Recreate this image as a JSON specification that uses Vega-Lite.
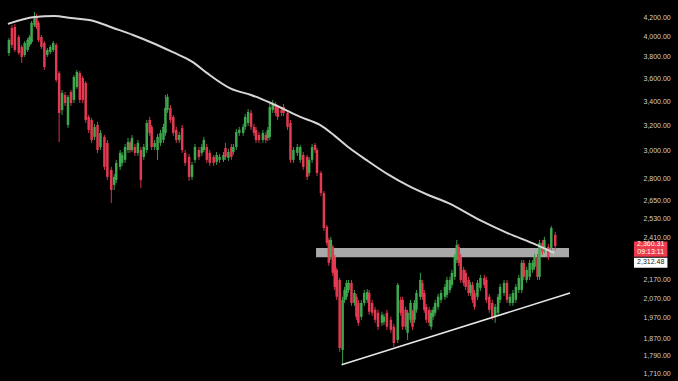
{
"$schema": "https://vega.github.io/schema/vega-lite/v6.json",
"width": 637, "height": 381,
"autosize": {"type": "none"},
"padding": {"left": 0, "top": 0, "right": 41, "bottom": 0},
"background": "#000000",
"config": {"view": {"stroke": null}},
"datasets": {
"candles": [
{"d":4,"o":3838,"h":3986,"l":3810,"c":3966},
{"d":7,"o":4088,"h":4119,"l":3887,"c":3916},
{"d":10,"o":4098,"h":4130,"l":3848,"c":3867},
{"d":14,"o":3996,"h":4016,"l":3819,"c":3838},
{"d":17,"o":3897,"h":3916,"l":3743,"c":3800},
{"d":20,"o":3819,"h":3956,"l":3800,"c":3936},
{"d":23,"o":3867,"h":3986,"l":3848,"c":3966},
{"d":25,"o":3916,"h":4016,"l":3897,"c":3996},
{"d":27,"o":3946,"h":4161,"l":3926,"c":4140},
{"d":30,"o":4119,"h":4256,"l":4098,"c":4192},
{"d":32,"o":4203,"h":4235,"l":4077,"c":4098},
{"d":34,"o":4140,"h":4161,"l":3946,"c":3966},
{"d":37,"o":3996,"h":4016,"l":3877,"c":3897},
{"d":40,"o":3936,"h":3956,"l":3677,"c":3705},
{"d":43,"o":3819,"h":3887,"l":3800,"c":3867},
{"d":46,"o":3848,"h":3916,"l":3829,"c":3897},
{"d":49,"o":3867,"h":3956,"l":3848,"c":3936},
{"d":52,"o":3916,"h":3936,"l":3568,"c":3586},
{"d":55,"o":3649,"h":3668,"l":3067,"c":3300},
{"d":58,"o":3325,"h":3497,"l":3283,"c":3470},
{"d":61,"o":3453,"h":3479,"l":3359,"c":3384},
{"d":64,"o":3202,"h":3453,"l":3178,"c":3436},
{"d":67,"o":3479,"h":3497,"l":3359,"c":3384},
{"d":70,"o":3410,"h":3631,"l":3384,"c":3613},
{"d":73,"o":3523,"h":3677,"l":3506,"c":3659},
{"d":76,"o":3649,"h":3668,"l":3384,"c":3410},
{"d":79,"o":3604,"h":3622,"l":3384,"c":3410},
{"d":82,"o":3559,"h":3577,"l":3218,"c":3242},
{"d":85,"o":3267,"h":3283,"l":3138,"c":3162},
{"d":88,"o":3242,"h":3258,"l":3060,"c":3083},
{"d":91,"o":3107,"h":3210,"l":3083,"c":3186},
{"d":94,"o":3202,"h":3226,"l":2984,"c":3006},
{"d":97,"o":3029,"h":3162,"l":3006,"c":3138},
{"d":101,"o":3107,"h":3122,"l":2859,"c":2881},
{"d":104,"o":3060,"h":3083,"l":2788,"c":2809},
{"d":108,"o":2859,"h":2881,"l":2631,"c":2718},
{"d":111,"o":2753,"h":2830,"l":2718,"c":2809},
{"d":113,"o":2788,"h":2932,"l":2767,"c":2910},
{"d":117,"o":2881,"h":3006,"l":2859,"c":2984},
{"d":119,"o":2910,"h":2991,"l":2888,"c":2969},
{"d":122,"o":2932,"h":3052,"l":2910,"c":3029},
{"d":125,"o":3006,"h":3099,"l":2984,"c":3067},
{"d":127,"o":3060,"h":3075,"l":2984,"c":3006},
{"d":129,"o":3006,"h":3122,"l":2991,"c":3099},
{"d":132,"o":3029,"h":3052,"l":2962,"c":2984},
{"d":135,"o":2984,"h":3083,"l":2962,"c":3060},
{"d":138,"o":3006,"h":3029,"l":2732,"c":2788},
{"d":141,"o":2954,"h":3052,"l":2932,"c":3029},
{"d":144,"o":3006,"h":3242,"l":2984,"c":3218},
{"d":147,"o":3242,"h":3267,"l":3115,"c":3138},
{"d":149,"o":3186,"h":3202,"l":3006,"c":3029},
{"d":152,"o":3029,"h":3083,"l":3006,"c":3060},
{"d":155,"o":3006,"h":3130,"l":2932,"c":3107},
{"d":158,"o":3060,"h":3162,"l":3037,"c":3138},
{"d":161,"o":3083,"h":3210,"l":3060,"c":3186},
{"d":163,"o":3138,"h":3453,"l":3115,"c":3342},
{"d":165,"o":3325,"h":3462,"l":3300,"c":3436},
{"d":168,"o":3342,"h":3367,"l":3218,"c":3242},
{"d":171,"o":3267,"h":3283,"l":3115,"c":3138},
{"d":174,"o":3162,"h":3186,"l":3060,"c":3083},
{"d":177,"o":3083,"h":3146,"l":3060,"c":3122},
{"d":180,"o":3178,"h":3202,"l":2984,"c":3006},
{"d":183,"o":2984,"h":3006,"l":2888,"c":2910},
{"d":187,"o":2954,"h":2976,"l":2781,"c":2809},
{"d":190,"o":2809,"h":2917,"l":2788,"c":2895},
{"d":193,"o":2932,"h":3052,"l":2910,"c":3029},
{"d":197,"o":3006,"h":3029,"l":2932,"c":2954},
{"d":200,"o":2984,"h":3052,"l":2962,"c":3029},
{"d":202,"o":3006,"h":3107,"l":2991,"c":3083},
{"d":205,"o":3029,"h":3052,"l":2910,"c":2932},
{"d":208,"o":2984,"h":3006,"l":2888,"c":2910},
{"d":212,"o":2954,"h":2969,"l":2888,"c":2910},
{"d":215,"o":2917,"h":2991,"l":2895,"c":2969},
{"d":218,"o":2932,"h":2976,"l":2910,"c":2954},
{"d":222,"o":2932,"h":2991,"l":2917,"c":2969},
{"d":224,"o":3021,"h":3060,"l":2932,"c":2954},
{"d":227,"o":2947,"h":3014,"l":2925,"c":2991},
{"d":230,"o":3029,"h":3052,"l":2932,"c":2954},
{"d":232,"o":2991,"h":3052,"l":2969,"c":3029},
{"d":235,"o":3029,"h":3170,"l":3006,"c":3146},
{"d":238,"o":3138,"h":3186,"l":3115,"c":3162},
{"d":242,"o":3138,"h":3210,"l":3115,"c":3186},
{"d":244,"o":3186,"h":3291,"l":3162,"c":3267},
{"d":247,"o":3218,"h":3333,"l":3194,"c":3308},
{"d":250,"o":3300,"h":3325,"l":3162,"c":3186},
{"d":253,"o":3186,"h":3210,"l":3115,"c":3138},
{"d":255,"o":3162,"h":3186,"l":3060,"c":3083},
{"d":258,"o":3122,"h":3146,"l":3060,"c":3083},
{"d":262,"o":3083,"h":3162,"l":3060,"c":3138},
{"d":265,"o":3122,"h":3146,"l":3060,"c":3083},
{"d":267,"o":3099,"h":3186,"l":3075,"c":3162},
{"d":269,"o":3107,"h":3376,"l":3083,"c":3350},
{"d":272,"o":3325,"h":3410,"l":3300,"c":3367},
{"d":275,"o":3367,"h":3393,"l":3275,"c":3300},
{"d":277,"o":3342,"h":3367,"l":3242,"c":3267},
{"d":281,"o":3325,"h":3350,"l":3275,"c":3300},
{"d":283,"o":3350,"h":3376,"l":3275,"c":3300},
{"d":287,"o":3300,"h":3325,"l":3162,"c":3186},
{"d":290,"o":3218,"h":3242,"l":2910,"c":2932},
{"d":293,"o":2932,"h":3029,"l":2910,"c":3006},
{"d":297,"o":2984,"h":3052,"l":2962,"c":3029},
{"d":300,"o":2932,"h":3044,"l":2910,"c":3029},
{"d":303,"o":2969,"h":2991,"l":2859,"c":2881},
{"d":307,"o":2954,"h":2969,"l":2788,"c":2809},
{"d":309,"o":2837,"h":2954,"l":2816,"c":2932},
{"d":312,"o":2932,"h":3052,"l":2910,"c":3029},
{"d":315,"o":3044,"h":3060,"l":2984,"c":3006},
{"d":317,"o":3006,"h":3021,"l":2816,"c":2837},
{"d":321,"o":2837,"h":2852,"l":2677,"c":2697},
{"d":324,"o":2697,"h":2711,"l":2452,"c":2470},
{"d":327,"o":2477,"h":2489,"l":2361,"c":2379},
{"d":329,"o":2397,"h":2409,"l":2245,"c":2262},
{"d":331,"o":2296,"h":2415,"l":2279,"c":2397},
{"d":333,"o":2355,"h":2367,"l":2189,"c":2206},
{"d":335,"o":2296,"h":2308,"l":2113,"c":2129},
{"d":337,"o":2223,"h":2234,"l":2061,"c":2077},
{"d":340,"o":2167,"h":2178,"l":1808,"c":1826},
{"d":343,"o":1817,"h":2077,"l":1750,"c":2061},
{"d":345,"o":2061,"h":2129,"l":2045,"c":2113},
{"d":347,"o":2077,"h":2167,"l":2061,"c":2151},
{"d":349,"o":2113,"h":2167,"l":2097,"c":2151},
{"d":352,"o":2151,"h":2167,"l":2030,"c":2045},
{"d":355,"o":2045,"h":2113,"l":2030,"c":2097},
{"d":357,"o":2077,"h":2092,"l":1960,"c":1975},
{"d":359,"o":2045,"h":2061,"l":1930,"c":1945},
{"d":362,"o":1975,"h":2061,"l":1960,"c":2045},
{"d":365,"o":2045,"h":2113,"l":2030,"c":2097},
{"d":368,"o":2061,"h":2118,"l":2045,"c":2102},
{"d":370,"o":2097,"h":2113,"l":1985,"c":2000},
{"d":373,"o":2045,"h":2061,"l":1980,"c":1995},
{"d":376,"o":2010,"h":2025,"l":1945,"c":1960},
{"d":379,"o":1995,"h":2010,"l":1911,"c":1926},
{"d":383,"o":1945,"h":2000,"l":1930,"c":1985},
{"d":385,"o":1950,"h":1990,"l":1935,"c":1975},
{"d":388,"o":1995,"h":2010,"l":1911,"c":1926},
{"d":392,"o":1960,"h":1975,"l":1897,"c":1911},
{"d":395,"o":1926,"h":1940,"l":1831,"c":1849},
{"d":399,"o":1863,"h":2151,"l":1849,"c":2140},
{"d":402,"o":2061,"h":2077,"l":1980,"c":1995},
{"d":404,"o":2061,"h":2077,"l":1911,"c":1926},
{"d":407,"o":2010,"h":2025,"l":1911,"c":1926},
{"d":409,"o":1897,"h":2010,"l":1863,"c":1995},
{"d":412,"o":1960,"h":2061,"l":1945,"c":2045},
{"d":414,"o":1995,"h":2010,"l":1911,"c":1926},
{"d":416,"o":1960,"h":2061,"l":1945,"c":2045},
{"d":418,"o":2010,"h":2113,"l":1995,"c":2097},
{"d":422,"o":2077,"h":2206,"l":2061,"c":2167},
{"d":424,"o":2151,"h":2167,"l":2061,"c":2077},
{"d":426,"o":2097,"h":2113,"l":1995,"c":2010},
{"d":428,"o":2025,"h":2040,"l":1945,"c":1960},
{"d":431,"o":2010,"h":2025,"l":1930,"c":1945},
{"d":433,"o":1926,"h":2010,"l":1911,"c":1995},
{"d":435,"o":1975,"h":2025,"l":1960,"c":2010},
{"d":437,"o":1995,"h":2061,"l":1980,"c":2045},
{"d":440,"o":2025,"h":2092,"l":2010,"c":2077},
{"d":443,"o":2061,"h":2113,"l":2045,"c":2097},
{"d":447,"o":2077,"h":2145,"l":2061,"c":2129},
{"d":449,"o":2087,"h":2184,"l":2071,"c":2167},
{"d":452,"o":2113,"h":2184,"l":2097,"c":2167},
{"d":454,"o":2140,"h":2223,"l":2124,"c":2206},
{"d":457,"o":2184,"h":2314,"l":2167,"c":2296},
{"d":459,"o":2279,"h":2397,"l":2262,"c":2367},
{"d":461,"o":2355,"h":2373,"l":2245,"c":2262},
{"d":463,"o":2296,"h":2314,"l":2151,"c":2167},
{"d":466,"o":2223,"h":2240,"l":2135,"c":2151},
{"d":468,"o":2206,"h":2223,"l":2113,"c":2129},
{"d":471,"o":2167,"h":2184,"l":2082,"c":2097},
{"d":473,"o":2097,"h":2156,"l":2082,"c":2140},
{"d":475,"o":2140,"h":2156,"l":2045,"c":2061},
{"d":477,"o":2097,"h":2113,"l":2010,"c":2025},
{"d":480,"o":2077,"h":2167,"l":2061,"c":2151},
{"d":483,"o":2124,"h":2195,"l":2108,"c":2178},
{"d":487,"o":2178,"h":2195,"l":2124,"c":2140},
{"d":489,"o":2167,"h":2184,"l":2045,"c":2061},
{"d":492,"o":2077,"h":2092,"l":1995,"c":2010},
{"d":495,"o":2045,"h":2061,"l":1960,"c":1975},
{"d":498,"o":1975,"h":2040,"l":1945,"c":2025},
{"d":501,"o":1995,"h":2092,"l":1980,"c":2077},
{"d":503,"o":2061,"h":2145,"l":2045,"c":2129},
{"d":507,"o":2097,"h":2167,"l":2082,"c":2151},
{"d":510,"o":2151,"h":2167,"l":2045,"c":2061},
{"d":513,"o":2045,"h":2092,"l":2030,"c":2077},
{"d":516,"o":2045,"h":2113,"l":2030,"c":2097},
{"d":519,"o":2061,"h":2145,"l":2045,"c":2129},
{"d":522,"o":2113,"h":2195,"l":2097,"c":2178},
{"d":525,"o":2113,"h":2279,"l":2097,"c":2262},
{"d":527,"o":2262,"h":2279,"l":2167,"c":2184},
{"d":530,"o":2167,"h":2240,"l":2151,"c":2223},
{"d":533,"o":2184,"h":2279,"l":2167,"c":2262},
{"d":536,"o":2223,"h":2279,"l":2206,"c":2262},
{"d":538,"o":2240,"h":2314,"l":2223,"c":2296},
{"d":541,"o":2296,"h":2314,"l":2167,"c":2184},
{"d":543,"o":2184,"h":2397,"l":2167,"c":2379},
{"d":546,"o":2379,"h":2397,"l":2308,"c":2325},
{"d":548,"o":2337,"h":2415,"l":2319,"c":2397},
{"d":552,"o":2355,"h":2373,"l":2279,"c":2296},
{"d":555,"o":2349,"h":2483,"l":2331,"c":2470},
{"d":559,"o":2427,"h":2446,"l":2337,"c":2360.31}
],
"ma": [
{"d":3,"p":4130},{"d":30,"p":4203},{"d":50,"p":4213},{"d":67,"p":4192},{"d":90,"p":4161},
{"d":110,"p":4088},{"d":130,"p":4016},{"d":150,"p":3936},{"d":170,"p":3848},{"d":190,"p":3756},
{"d":205,"p":3650},{"d":230,"p":3506},{"d":250,"p":3453},{"d":270,"p":3384},{"d":300,"p":3267},
{"d":320,"p":3202},{"d":335,"p":3115},{"d":350,"p":3021},{"d":367,"p":2932},{"d":390,"p":2823},
{"d":410,"p":2746},{"d":430,"p":2684},{"d":450,"p":2631},{"d":482,"p":2521},{"d":510,"p":2440},
{"d":540,"p":2367},{"d":558,"p":2319}
]
},
"encoding": {
"x": {"field": "d", "type": "quantitative", "scale": {"domain": [0, 637], "nice": false, "zero": false}, "axis": null}
},
"layer": [
{
"data": {"values": [{"d1": 316, "d2": 573, "p1": 2295, "p2": 2349}]},
"mark": {"type": "rect", "color": "#a9a9a9"},
"encoding": {
"x": {"field": "d1", "type": "quantitative"},
"x2": {"field": "d2"},
"y": {"field": "p1", "type": "quantitative"},
"y2": {"field": "p2"}
}
},
{
"data": {"values": [{"p": 2360.31}]},
"mark": {"type": "rule", "color": "#8a2332", "strokeDash": [2, 2], "strokeWidth": 1},
"encoding": {"y": {"field": "p", "type": "quantitative"}}
},
{
"data": {"name": "candles"},
"mark": {"type": "rule", "strokeWidth": 1},
"encoding": {
"y": {"field": "l", "type": "quantitative"},
"y2": {"field": "h"},
"color": {"condition": {"test": "datum.c >= datum.o", "value": "#3c9a4a"}, "value": "#d8334a"}
}
},
{
"data": {"name": "candles"},
"mark": {"type": "bar", "width": 2.5},
"encoding": {
"y": {"field": "o", "type": "quantitative", "scale": {"type": "log", "domain": [1680, 4386], "nice": false, "zero": false},
"axis": {"orient": "right", "title": null, "values": [4200,4000,3800,3600,3400,3200,3000,2800,2650,2530,2410,2170,2070,1970,1870,1790,1710],
"format": ",.2f", "ticks": false, "domain": false, "grid": false, "labelColor": "#d0d0d0", "labelFontSize": 7, "labelFont": "Liberation Sans", "labelPadding": 6}},
"y2": {"field": "c"},
"color": {"condition": {"test": "datum.c >= datum.o", "value": "#3ea84e"}, "value": "#e33a52"}
}
},
{
"data": {"name": "ma"},
"mark": {"type": "line", "color": "#d6d6d6", "strokeWidth": 2, "interpolate": "monotone"},
"encoding": {"y": {"field": "p", "type": "quantitative"}}
},
{
"data": {"values": [{"d": 342, "p": 1750}, {"d": 574, "p": 2097}]},
"mark": {"type": "line", "color": "#e6e6e6", "strokeWidth": 1.6},
"encoding": {"y": {"field": "p", "type": "quantitative"}}
},
{
"data": {"values": [{"d1": 639, "d2": 673, "p1": 2298, "p2": 2388}]},
"mark": {"type": "rect", "color": "#ec3a4e"},
"encoding": {
"x": {"field": "d1", "type": "quantitative"},
"x2": {"field": "d2"},
"y": {"field": "p1", "type": "quantitative"},
"y2": {"field": "p2"}
}
},
{
"data": {"values": [{"d1": 639, "d2": 673, "p1": 2235, "p2": 2292}]},
"mark": {"type": "rect", "color": "#ffffff"},
"encoding": {
"x": {"field": "d1", "type": "quantitative"},
"x2": {"field": "d2"},
"y": {"field": "p1", "type": "quantitative"},
"y2": {"field": "p2"}
}
},
{
"data": {"values": [{"d": 656, "p": 2370, "t": "2,360.31"}, {"d": 656, "p": 2327, "t": "09:13:11"}]},
"mark": {"type": "text", "color": "#ffffff", "fontSize": 7, "font": "Liberation Sans", "align": "center", "baseline": "middle"},
"encoding": {"y": {"field": "p", "type": "quantitative"}, "text": {"field": "t"}}
},
{
"data": {"values": [{"d": 656, "p": 2265, "t": "2,312.48"}]},
"mark": {"type": "text", "color": "#222222", "fontSize": 7, "font": "Liberation Sans", "align": "center", "baseline": "middle"},
"encoding": {"y": {"field": "p", "type": "quantitative"}, "text": {"field": "t"}}
}
]
}
